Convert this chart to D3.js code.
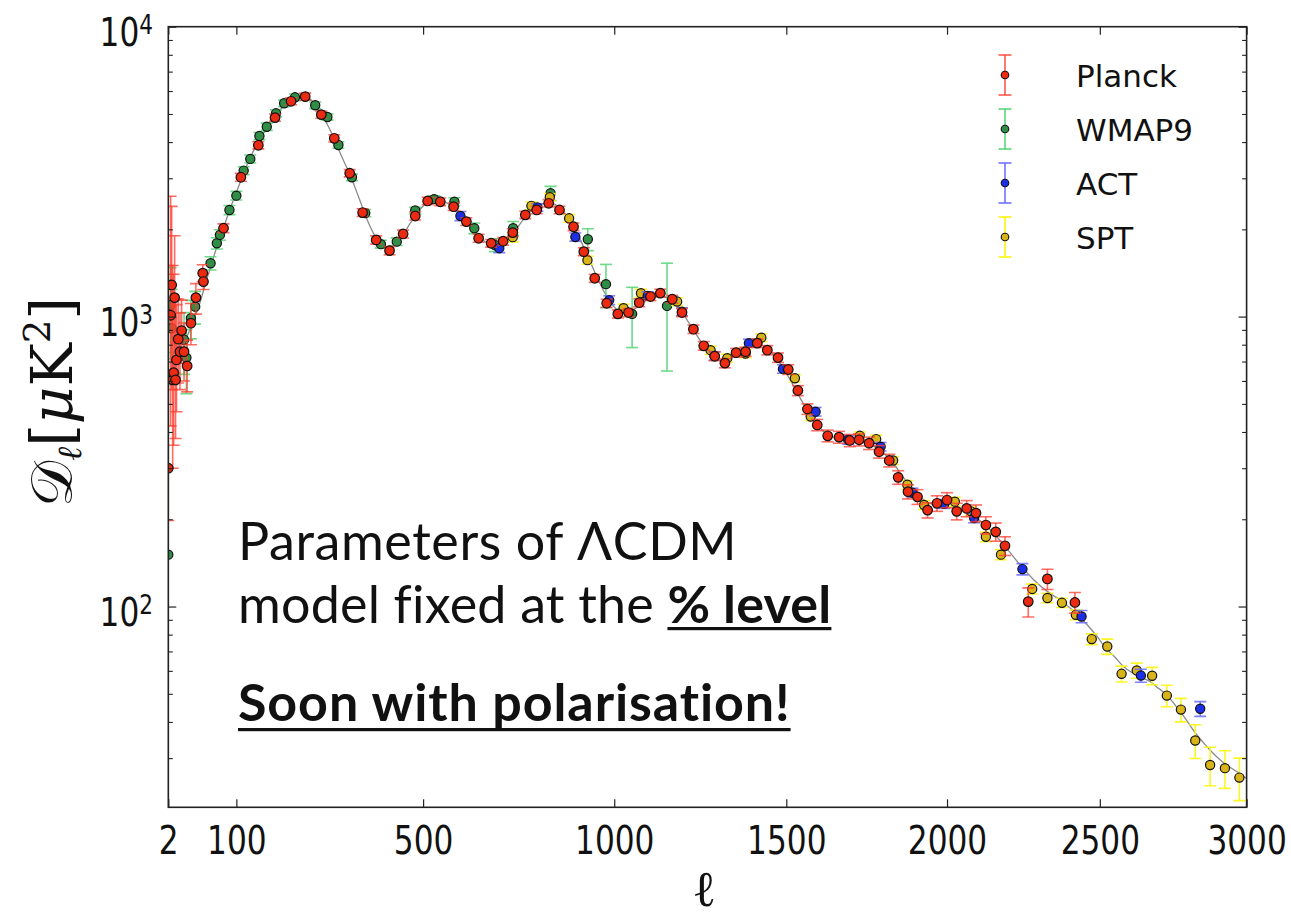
<!DOCTYPE html>
<html>
<head>
<meta charset="utf-8">
<script src="https://cdn.jsdelivr.net/npm/d3@7"></script>
<style>
  html, body { margin: 0; padding: 0; background: #ffffff; }
  svg { display: block; }
</style>
</head>
<body>
<svg id="chart" width="1291" height="922"></svg>
<script>
// ---------------------------------------------------------------
// CMB temperature power spectrum D_ell [muK^2] versus multipole ell
// ---------------------------------------------------------------

// Planck (first 17 entries are single low multipoles with asymmetric errors)
const planckEll = [2,4,5,6,7,8,9,10,12,14,16,19,23,28,35,45,46,
  78,108,140,172,204,233,267,295,329,358,389,420,452,481,511,542,575,607,638,670,
  701,726,759,789,821,850,888,916,946,979,1010,1040,1070,1102,1130,1164,1192,1225,1255,1287,
  1317,1350,1378,1413,1443,1475,1506,1535,1564,1594,1626,1661,1694,1723,1754,1785,1817,1845,1876,1906,
  1938,1968,2000,2031,2063,2093,2125,2157,2187,2263,2326,2417];
const planckDl = [300,1011,1286,605,641,1163,605,709,836,757,895,757,676,949,1163,1412,1321,
  2018,3025,3899,4857,5530,5739,4975,4121,3123,2285,1839,1689,1928,2224,2506,2490,2394,2127,1863,1791,
  1820,1949,2243,2333,2460,2333,2042,1675,1356,1112,1022,1033,1117,1173,1205,1148,1033,905,793,730,
  691,751,757,810,766,722,657,556,480,423,388,384,374,376,366,342,319,279,249,239,
  215,227,233,213,218,210,191,181,162,104,124.5,103.3];
const planckErrLo = [102,591,726,305,281,523,225,239,246,197,205,157,126,149,143,92,81,
  70,95,110,140,150,160,140,120,90,70,60,55,60,70,75,75,70,65,58,55,
  55,60,65,70,72,70,62,52,42,36,33,33,35,37,38,36,33,30,27,25,
  25,26,27,28,28,27,25,22,20,19,18,18,18,18,18,17,16,15,14,14,
  13,14,14,14,14,14,13,13,12,12,10,8.5];
const planckErrHi = [1200,1589,1114,895,759,737,545,391,314,273,245,193,154,161,137,98,89,
  70,95,110,140,150,160,140,120,90,70,60,55,60,70,75,75,70,65,58,55,
  55,60,65,70,72,70,62,52,42,36,33,33,35,37,38,36,33,30,27,25,
  25,26,27,28,28,27,25,22,20,19,18,18,18,18,18,17,16,15,14,14,
  13,14,14,14,14,14,13,13,12,12,10,8.5];

// WMAP 9-year
const wmapEll = [2,4,5,19,22,28,34,
  57,67,72,88,100,113,125,142,156,174,190,212,254,280,304,334,364,400,437,481,
  527,577,627,680,727,826,927,977,1050,1149];
const wmapDl = [151,1096,912,832,722,988,1082,
  1528,1791,1914,2333,2614,3189,3499,4198,4519,5026,5445,5707,5357,4883,3908,3025,2275,1778,1814,2322,
  2542,2490,2018,1766,2018,2663,1849,1294,1022,1089];
const wmapErr = [600,380,330,200,180,150,140,
  80,80,80,85,90,100,110,120,130,140,145,150,140,120,100,80,65,55,55,60,
  70,80,85,90,110,150,160,220,240,440];

// ACT
const actEll = [592,691,791,893,986,1094,1192,1287,1388,1490,1589,1689,1790,1890,1991,2087,2244,2439,2638,2840];
const actDl = [2224,1722,2382,1882,1140,1179,1040,732,810,660,470,376,356,247,226,202,134.6,92.4,57.8,44.4];
const actErr = [80,60,70,60,40,38,33,25,26,22,16,13,12,9,8,7.5,6,4.5,3,2.6];

// SPT
const sptEll = [726,775,824,876,926,1026,1075,1178,1275,1324,1378,1425,1526,1574,1725,1776,1829,1874,1927,2025,
  2077,2125,2174,2276,2326,2374,2420,2473,2525,2573,2624,2676,2726,2774,2823,2874,2925,2975];
const sptDl = [1880,2410,2582,2183,1566,1069,1205,1127,766,719,746,846,613,452,388,378,319,263,224,230,
  213,174,151,115,107,103,93.6,77.2,72.8,58.6,60.2,57.7,49.3,44.1,34.5,28.4,27.7,25.7];
const sptErr = [70,75,75,65,50,35,38,35,25,23,24,26,18,14,12,12,10,9,8,8,
  7.5,6.5,6,4.5,4,3.8,3.6,3.3,4.4,3.7,3.6,4,4.2,4.1,4.6,4.3,4.1,4.3];

// Best-fit LCDM model curve
const theoryEll = [2,4,7,10,15,20,25,30,40,50,60,70,80,90,100,115,130,145,160,175,190,205,220,235,250,265,280,295,310,330,
  350,370,390,410,430,450,470,490,510,530,550,570,590,610,630,650,670,690,710,730,750,770,790,810,830,850,870,890,910,930,
  950,970,990,1010,1030,1050,1070,1090,1110,1130,1150,1170,1190,1210,1230,1250,1270,1290,1310,1330,1350,1370,1390,1410,1430,
  1450,1470,1490,1510,1530,1550,1570,1590,1610,1630,1650,1680,1710,1740,1770,1800,1830,1860,1890,1920,1950,1980,2010,2040,
  2070,2100,2130,2160,2190,2220,2250,2280,2310,2340,2370,2400,2430,2460,2490,2520,2550,2580,2610,2640,2670,2700,2730,2760,
  2790,2820,2850,2880,2910,2940,2970,3000];
const theoryDl = [1000,900,820,790,800,830,880,950,1100,1320,1560,1820,2080,2380,2680,3200,3700,4180,4600,5000,5350,5600,5730,5720,5500,5060,4600,4100,3600,3080,
  2560,2130,1860,1740,1760,1900,2110,2320,2470,2530,2500,2400,2260,2100,1940,1830,1770,1770,1830,1960,2130,2290,2400,2460,2460,2380,2230,2030,1800,1580,
  1390,1230,1120,1050,1030,1050,1090,1140,1170,1180,1160,1120,1050,960,880,810,755,720,705,715,740,770,795,805,795,
  765,720,665,610,555,505,465,430,405,390,382,378,375,368,356,338,312,280,255,236,226,222,221,217,
  210,200,188,174,160,146,134,124,116,110,105,99,93,86,79,72,67,62,59,57,55,52,49,45,
  41,37,34,31.5,29.5,28,26.8,25.5];

// Axis ticks
const xTickValues = [2, 100, 500, 1000, 1500, 2000, 2500, 3000];
const yMajorTicks = [100, 1000, 10000];
const yTickExponents = ["2", "3", "4"];
const yMinorTicks = [30,40,50,60,70,80,90,200,300,400,500,600,700,800,900,2000,3000,4000,5000,6000,7000,8000,9000];

// Legend
const seriesNames = ["Planck", "WMAP9", "ACT", "SPT"];

// ---------------------------------------------------------------
const svg = d3.select("#chart");
const X0 = 168.3, X1 = 1246.6, Y0 = 807.3, Y1 = 26.7;

const x = d3.scalePow().exponent(0.8).domain([2, 3000]).range([X0, X1]);
const y = d3.scaleLog().domain([20.3, 10000]).range([Y0, Y1]);

const styles = {
  Planck: { fill: "#ec2a12", bar: "#ff3b2e", barOpacity: 0.75, r: 4.8 },
  WMAP9:  { fill: "#2f8d46", bar: "#55d375", barOpacity: 0.85, r: 4.6 },
  ACT:    { fill: "#1d2fe6", bar: "#6a6cff", barOpacity: 0.85, r: 4.6 },
  SPT:    { fill: "#d8b31a", bar: "#fbf51c", barOpacity: 0.95, r: 4.6 }
};

svg.append("defs").append("clipPath").attr("id", "plotClip")
  .append("rect").attr("x", X0).attr("y", Y1).attr("width", X1 - X0).attr("height", Y0 - Y1);

const plot = svg.append("g").attr("clip-path", "url(#plotClip)");

// model curve
const modelLine = d3.line()
  .x(d => x(d[0]))
  .y(d => y(d[1]))
  .curve(d3.curveMonotoneX);
plot.append("path")
  .datum(d3.zip(theoryEll, theoryDl))
  .attr("d", modelLine)
  .attr("fill", "none")
  .attr("stroke", "#8a8a8a")
  .attr("stroke-width", 1.3);

function drawSeries(ell, dl, errLo, errHi, st) {
  const pts = ell.map((l, i) => ({
    l: l, d: dl[i],
    lo: Math.max(dl[i] - errLo[i], 1),
    hi: dl[i] + errHi[i]
  }));
  const g = plot.append("g");
  const bars = g.append("g")
    .attr("stroke", st.bar)
    .attr("stroke-opacity", st.barOpacity)
    .attr("stroke-width", 1.6);
  const capHalf = 6;
  bars.selectAll("line.v").data(pts).join("line").attr("class", "v")
    .attr("x1", d => x(d.l)).attr("x2", d => x(d.l))
    .attr("y1", d => y(d.lo)).attr("y2", d => y(d.hi));
  bars.selectAll("line.ct").data(pts).join("line").attr("class", "ct")
    .attr("x1", d => x(d.l) - capHalf).attr("x2", d => x(d.l) + capHalf)
    .attr("y1", d => y(d.hi)).attr("y2", d => y(d.hi));
  bars.selectAll("line.cb").data(pts).join("line").attr("class", "cb")
    .attr("x1", d => x(d.l) - capHalf).attr("x2", d => x(d.l) + capHalf)
    .attr("y1", d => y(d.lo)).attr("y2", d => y(d.lo));
  g.append("g").selectAll("circle").data(pts).join("circle")
    .attr("cx", d => x(d.l)).attr("cy", d => y(d.d))
    .attr("r", st.r)
    .attr("fill", st.fill)
    .attr("stroke", "#111")
    .attr("stroke-width", 1.2);
}

drawSeries(wmapEll, wmapDl, wmapErr, wmapErr, styles.WMAP9);
drawSeries(sptEll, sptDl, sptErr, sptErr, styles.SPT);
drawSeries(actEll, actDl, actErr, actErr, styles.ACT);
drawSeries(planckEll, planckDl, planckErrLo, planckErrHi, styles.Planck);

// ---------------- axes ----------------
const tickFont = "'DejaVu Sans', 'Bitstream Vera Sans', sans-serif";

const gxB = svg.append("g").attr("transform", `translate(0,${Y0})`)
  .call(d3.axisBottom(x).tickValues(xTickValues).tickFormat(d3.format("d"))
    .tickSizeInner(-8).tickSizeOuter(0));
gxB.select(".domain").remove();
gxB.selectAll("line").attr("stroke", "#222").attr("stroke-width", 1.2);
gxB.selectAll("text")
  .attr("y", 47).attr("dy", null)
  .attr("fill", "#111")
  .style("font-family", tickFont).style("font-size", "39px")
  .attr("transform", "scale(0.8,1)");

const gxT = svg.append("g").attr("transform", `translate(0,${Y1})`)
  .call(d3.axisTop(x).tickValues(xTickValues).tickFormat("").tickSizeInner(-8).tickSizeOuter(0));
gxT.select(".domain").remove();
gxT.selectAll("line").attr("stroke", "#222").attr("stroke-width", 1.2);

function yAxisSide(axisFn, xpos) {
  const gMaj = svg.append("g").attr("transform", `translate(${xpos},0)`)
    .call(axisFn(y).tickValues(yMajorTicks).tickFormat("").tickSizeInner(-8).tickSizeOuter(0));
  gMaj.select(".domain").remove();
  gMaj.selectAll("line").attr("stroke", "#222").attr("stroke-width", 1.2);
  const gMin = svg.append("g").attr("transform", `translate(${xpos},0)`)
    .call(axisFn(y).tickValues(yMinorTicks).tickFormat("").tickSizeInner(-4.5).tickSizeOuter(0));
  gMin.select(".domain").remove();
  gMin.selectAll("line").attr("stroke", "#222").attr("stroke-width", 1.1);
}
yAxisSide(d3.axisLeft, X0);
yAxisSide(d3.axisRight, X1);

// y tick labels as powers of ten
const yLab = svg.append("g");
yMajorTicks.forEach((v, i) => {
  const t = yLab.append("text")
    .attr("transform", `translate(153,${y(v) + 19.5}) scale(0.8,1)`)
    .attr("text-anchor", "end")
    .attr("fill", "#111")
    .style("font-family", tickFont).style("font-size", "39px");
  t.append("tspan").text("10");
  t.append("tspan").attr("dy", -12).style("font-size", "27px").text(yTickExponents[i]);
});

// frame
svg.append("rect")
  .attr("x", X0).attr("y", Y1).attr("width", X1 - X0).attr("height", Y0 - Y1)
  .attr("fill", "none").attr("stroke", "#222").attr("stroke-width", 1.6);

// axis titles
const mathFont = "'DejaVu Serif', 'Liberation Serif', serif";
const yTitle = svg.append("text")
  .attr("transform", "translate(72,402) rotate(-90)")
  .attr("text-anchor", "middle")
  .attr("fill", "#111")
  .style("font-family", mathFont).style("font-size", "58px");
yTitle.append("tspan").text("𝒟");
yTitle.append("tspan").attr("dy", 9).style("font-size", "34px").style("font-style", "italic").text("ℓ");
yTitle.append("tspan").attr("dy", -9).text("[");
yTitle.append("tspan").style("font-style", "italic").text("μ");
yTitle.append("tspan").text("K");
yTitle.append("tspan").attr("dy", -22).style("font-size", "37px").text("2");
yTitle.append("tspan").attr("dy", 22).text("]");

svg.append("text")
  .attr("x", 704).attr("y", 906)
  .attr("text-anchor", "middle")
  .attr("fill", "#111")
  .style("font-family", mathFont).style("font-size", "50px")
  .text("ℓ");

// ---------------- legend ----------------
const legend = svg.append("g");
const legendX = 1005, legendY0 = 75, legendStep = 54;
seriesNames.forEach((name, i) => {
  const st = styles[name];
  const cy = legendY0 + i * legendStep;
  const g = legend.append("g");
  g.append("line").attr("x1", legendX).attr("x2", legendX).attr("y1", cy - 20).attr("y2", cy + 20)
    .attr("stroke", st.bar).attr("stroke-opacity", st.barOpacity).attr("stroke-width", 1.8);
  [cy - 20, cy + 20].forEach(yy => {
    g.append("line").attr("x1", legendX - 6.5).attr("x2", legendX + 6.5).attr("y1", yy).attr("y2", yy)
      .attr("stroke", st.bar).attr("stroke-opacity", st.barOpacity).attr("stroke-width", 1.8);
  });
  g.append("circle").attr("cx", legendX).attr("cy", cy).attr("r", 3.8)
    .attr("fill", st.fill).attr("stroke", "#111").attr("stroke-width", 1.1);
  g.append("text").attr("x", 1076).attr("y", cy + 12)
    .attr("fill", "#111")
    .style("font-family", tickFont).style("font-size", "31px")
    .text(name);
});

// ---------------- annotation ----------------
const noteFont = "Lato, 'Open Sans', sans-serif";
const note = svg.append("g").attr("fill", "#111").style("font-family", noteFont);

note.append("text").attr("x", 238).attr("y", 560).style("font-size", "52px")
  .style("letter-spacing", "0.6px")
  .text("Parameters of ΛCDM");

const line2 = note.append("text").attr("x", 238).attr("y", 623).style("font-size", "52px")
  .style("letter-spacing", "0.2px")
  .attr("xml:space", "preserve");
line2.append("tspan").text("model fixed at the ");
line2.append("tspan").style("font-weight", "bold").text("% level");

const line3 = note.append("text").attr("x", 238).attr("y", 721).style("font-size", "52px")
  .style("font-weight", "bold").style("letter-spacing", "0.9px")
  .style("font-variant-ligatures", "none")
  .text("Soon with polarisation!");

// underlines
{
  const node2 = line2.node();
  const full = "model fixed at the % level";
  const idx = full.indexOf("%");
  const startW = node2.getSubStringLength(0, idx);
  const boldW = node2.getSubStringLength(idx, full.length - idx);
  note.append("rect").attr("x", 238 + startW).attr("y", 627).attr("width", boldW).attr("height", 3.2);
  const w3 = line3.node().getComputedTextLength();
  note.append("rect").attr("x", 238).attr("y", 728).attr("width", w3).attr("height", 3.2);
}
</script>
</body>
</html>
